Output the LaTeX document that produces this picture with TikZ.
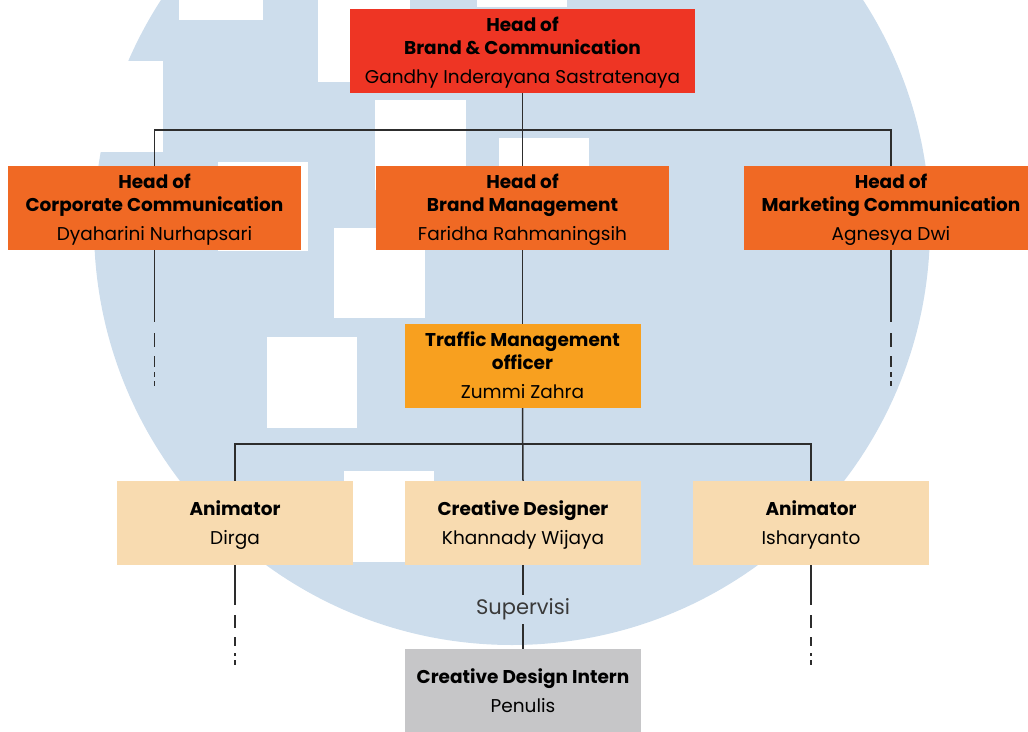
\documentclass[tikz,border=0pt]{standalone}
\usepackage{fontspec}
\setmainfont{Poppins}
\definecolor{bgblue}{HTML}{CDDDEC}
\definecolor{topred}{HTML}{EE3524}
\definecolor{headorange}{HTML}{F06924}
\definecolor{trafficorange}{HTML}{F8A01F}
\definecolor{peach}{HTML}{F8DBB0}
\definecolor{interngray}{HTML}{C6C6C8}
\definecolor{linegray}{HTML}{2D2D2D}
\definecolor{labelgray}{HTML}{3A3A3A}
\newcommand{\tstrutx}{\rule{0pt}{18.5pt}}
\newcommand{\bstrutx}{\rule[-5pt]{0pt}{5pt}}
\begin{document}
\begin{tikzpicture}[x=1pt,y=-1pt,
  box/.style={inner sep=0pt, align=center, text=black, minimum height=84pt,
    font=\fontsize{18.5}{23}\selectfont},
  redbox/.style={box, fill=topred, minimum width=345pt},
  headbox/.style={box, fill=headorange, minimum width=293pt},
  trafficbox/.style={box, fill=trafficorange, minimum width=236pt},
  staffbox/.style={box, fill=peach, minimum width=236pt},
  internbox/.style={box, fill=interngray, minimum width=236pt},
  conn/.style={draw=linegray, line width=1.5pt},
  tailhigh/.style={conn, dash pattern=on 72pt off 11pt on 14pt off 9pt on 11pt off 5pt on 5pt off 4pt on 5pt},
  taillow/.style={conn, dash pattern=on 40pt off 10pt on 13pt off 9pt on 9pt off 7pt on 3pt off 4pt on 5pt},
  whitecut/.style={fill=white, draw=none}]
\useasboundingbox (0,0) rectangle (1028,731);
\clip (0,0) rectangle (1028,731);
% background emblem
\fill[bgblue] (512,227) circle (418pt);
\fill[whitecut] (179,0) rectangle (263,20);
\fill[whitecut] (0,61) rectangle (163,152);
\fill[whitecut] (318,0) rectangle (410,82);
\fill[whitecut] (477,0) rectangle (567,7);
\fill[whitecut] (375,100) rectangle (466,190);
\fill[whitecut] (499,138) rectangle (589,228);
\fill[whitecut] (218,162) rectangle (308,251);
\fill[whitecut] (334,228) rectangle (425,318);
\fill[whitecut] (267,337) rectangle (357,428);
\fill[whitecut] (344,471) rectangle (434,562);
% nodes
\node[redbox] (top) at (522.5,51) {\tstrutx\textbf{Head of}\\\textbf{Brand \& Communication}\\[6pt]Gandhy Inderayana Sastratenaya\bstrutx};
\node[headbox] (cc) at (154.5,208) {\tstrutx\textbf{Head of}\\\textbf{Corporate Communication}\\[6pt]Dyaharini Nurhapsari\bstrutx};
\node[headbox] (bm) at (522.5,208) {\tstrutx\textbf{Head of}\\\textbf{Brand Management}\\[6pt]Faridha Rahmaningsih\bstrutx};
\node[headbox, minimum width=294pt] (mc) at (891,208) {\tstrutx\textbf{Head of}\\\textbf{Marketing Communication}\\[6pt]Agnesya Dwi\bstrutx};
\node[trafficbox] (tm) at (522.5,366) {\tstrutx\textbf{Traffic Management}\\\textbf{officer}\\[6pt]Zummi Zahra\bstrutx};
\node[staffbox] (an1) at (235,523) {\tstrutx\textbf{Animator}\\[6pt]Dirga\bstrutx};
\node[staffbox] (cd) at (523,523) {\tstrutx\textbf{Creative Designer}\\[6pt]Khannady Wijaya\bstrutx};
\node[staffbox] (an2) at (811,523) {\tstrutx\textbf{Animator}\\[6pt]Isharyanto\bstrutx};
\node[internbox] (in) at (523,691) {\tstrutx\textbf{Creative Design Intern}\\[6pt]Penulis\bstrutx};
\node[inner sep=0pt, minimum height=29pt, text=labelgray, font=\fontsize{21}{24}\selectfont] (sup) at (523,609.5) {Supervisi};
% coordinates
\coordinate (bus1) at (522.5,130);
\coordinate (bus2) at (523,444);
\coordinate (cce) at (154.5,386);
\coordinate (mce) at (891,386);
\coordinate (an1e) at (235,665);
\coordinate (an2e) at (811,665);
% connectors
\draw[conn] (top.south) -- (bm.north);
\draw[conn] (cc.north) |- (bus1) -| (mc.north);
\draw[conn] (bm.south) -- (tm.north);
\draw[conn] (tm.south) -- (cd.north);
\draw[conn] (an1.north) |- (bus2) -| (an2.north);
\draw[conn] (cd.south) -- (sup.north);
\draw[conn] (sup.south) -- (in.north);
\draw[tailhigh] (cc.south) -- (cce);
\draw[tailhigh] (mc.south) -- (mce);
\draw[taillow] (an1.south) -- (an1e);
\draw[taillow] (an2.south) -- (an2e);
\end{tikzpicture}
\end{document}
